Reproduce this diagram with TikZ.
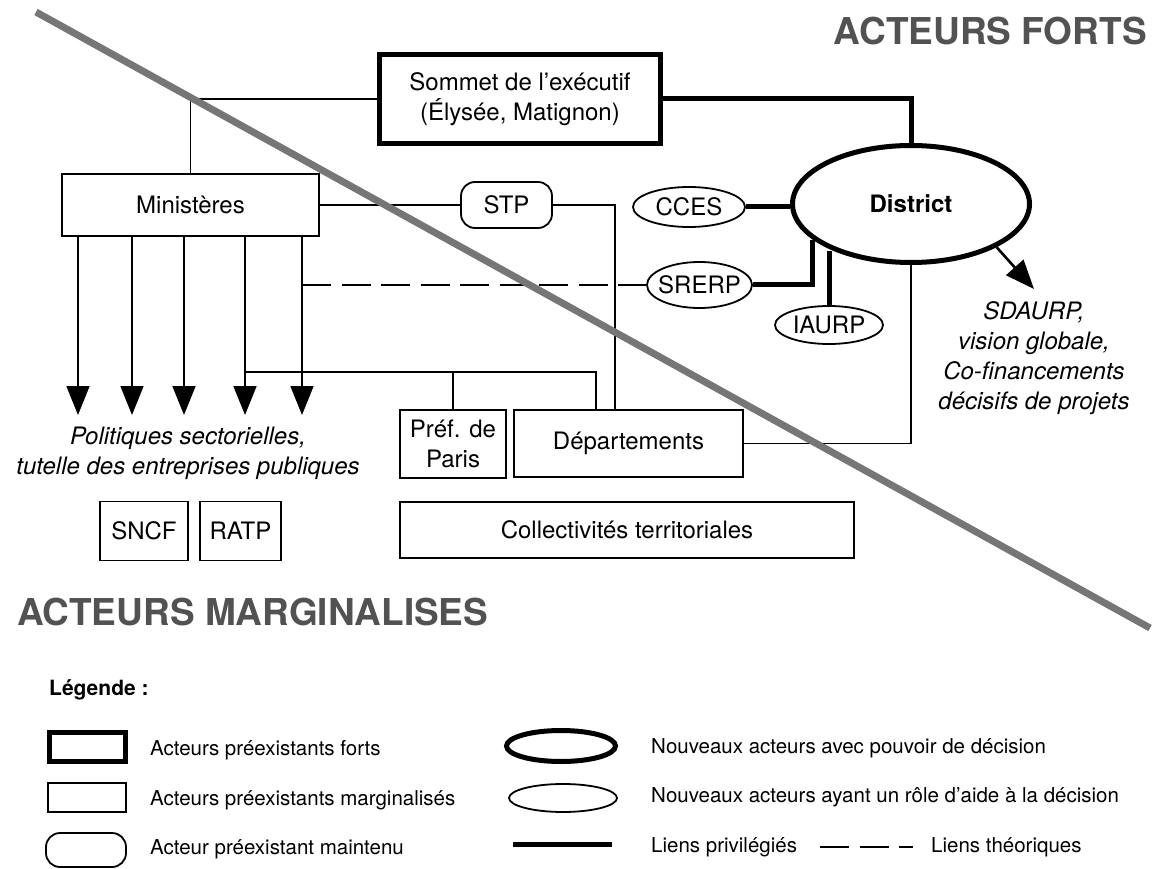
\documentclass[tikz,border=0pt]{standalone}
\usepackage{fontspec}
\setmainfont{TeX Gyre Heros}
\usetikzlibrary{arrows.meta,calc,shapes.geometric}
\definecolor{DistGray}{RGB}{118,118,118}
\definecolor{DistTitle}{RGB}{82,82,82}
\newcommand{\distfont}{\fontsize{24}{30}\selectfont}
\newcommand{\legfont}{\fontsize{20.5}{24}\selectfont}
\tikzset{
  dist/strongbox/.style={
    draw,
    line width=5pt,
    align=center,
    inner sep=0pt,
    font=\distfont
  },
  dist/weakbox/.style={
    draw,
    line width=1.8pt,
    align=center,
    inner sep=0pt,
    font=\distfont
  },
  dist/keptbox/.style={
    draw,
    line width=1.8pt,
    rounded corners=14pt,
    align=center,
    inner sep=0pt,
    font=\distfont
  },
  dist/power/.style={ellipse, draw, line width=5pt, inner sep=0pt, font=\distfont\bfseries},
  dist/aid/.style={ellipse, draw, line width=1.8pt, inner sep=0pt, font=\distfont},
  dist/link/.style={line width=1.8pt},
  dist/privlink/.style={line width=5pt},
  dist/theolink/.style={line width=1.8pt, dash pattern=on 29pt off 10.5pt},
  dist/arrow/.style={-{Triangle[length=29pt,width=23pt]}, line width=1.8pt},
  dist/note/.style={align=center, font=\distfont\itshape, inner xsep=2pt, inner ysep=12pt},
  dist/title/.style={font=\fontsize{37}{40}\selectfont\bfseries, text=DistTitle, inner sep=0pt},
  dist/legtitle/.style={anchor=west, font=\fontsize{21}{24}\selectfont\bfseries, inner sep=0pt},
  dist/legtext/.style={anchor=west, font=\legfont, inner sep=0pt},
  dist/divide/.style={line width=7pt, draw=DistGray}
}

\begin{document}
\begin{tikzpicture}[x=1pt,y=-1pt]
  \useasboundingbox (0,0) rectangle (1160,869);

  % acteurs
  \node[dist/strongbox,minimum width=281,minimum height=89] (sommet) at (520,99) {Sommet de l’exécutif\\(Élysée, Matignon)};
  \node[dist/weakbox,minimum width=257,minimum height=62] (ministeres) at (190.5,205) {Ministères};
  \node[dist/keptbox,minimum width=91,minimum height=46] (stp) at (506.5,205) {STP};
  \node[dist/aid,minimum width=112,minimum height=40] (cces) at (689,207) {CCES};
  \node[dist/power,minimum width=237,minimum height=117] (district) at (911,204) {District};
  \node[dist/aid,minimum width=105,minimum height=46] (srerp) at (699.5,285) {\makebox[0pt]{SRERP}};
  \node[dist/aid,minimum width=108,minimum height=38] (iaurp) at (829,325) {IAURP};
  \node[dist/weakbox,minimum width=106,minimum height=68] (prefparis) at (453,444) {Préf. de\\Paris};
  \node[dist/weakbox,minimum width=229,minimum height=67] (departements) at (628.5,443.5) {Départements};
  \node[dist/weakbox,minimum width=454,minimum height=56] (collectivites) at (627,530) {Collectivités territoriales};
  \node[dist/weakbox,minimum width=88,minimum height=59] (sncf) at (144,531) {SNCF};
  \node[dist/weakbox,minimum width=81,minimum height=59] (ratp) at (240.5,531) {RATP};

  \node[dist/note,anchor=north] (politiques) at (188,415) {Politiques sectorielles,\\tutelle des entreprises publiques};
  \node[dist/note,anchor=north] (sdaurp) at (1034,289) {SDAURP,\\vision globale,\\Co-financements\\décisifs de projets};

  \node[dist/title,anchor=base east] (fortstitle) at (1147,45) {ACTEURS FORTS};
  \node[dist/title,anchor=base west] (margtitle) at (17,625) {ACTEURS MARGINALISES};

  % liens
  \draw[dist/link] (sommet.west) -| (ministeres.north);
  \draw[dist/privlink] (sommet.east) -| (district.north);
  \draw[dist/link] (ministeres.east) -- (stp.west);
  \draw[dist/link] (stp.east) -| ($(departements.north west)+(102,0)$);
  \draw[dist/privlink] (cces.east) -- (cces.east -| district.west);
  \draw[dist/privlink] (srerp.east) -| (district.200);
  \draw[dist/privlink] (iaurp.north) -- (iaurp.north |- district.211);
  \draw[dist/link] (district.south) |- (departements.east);
  \draw[dist/arrow,line width=2.6pt] (district.south east) -- (sdaurp.north);
  \foreach \ax in {78,132,184,245,302}{
    \draw[dist/arrow] (\ax,0 |- ministeres.south) -- (\ax,0 |- politiques.north);
  }
  \draw[dist/theolink] (302,0 |- srerp.west) -- (srerp.west);
  \coordinate (tutelle) at (245,372);
  \draw[dist/link] (tutelle) -| ($(departements.north west)+(83,0)$);
  \draw[dist/link] (prefparis.north) -- (prefparis.north |- tutelle);

  % legende
  \node[dist/legtitle] (legende) at (49,690) {Légende :};
  \node[dist/strongbox,minimum width=76,minimum height=29] (legstrong) at (87.5,747) {};
  \node[dist/weakbox,minimum width=78,minimum height=29] (legweak) at (87,797.5) {};
  \node[dist/keptbox,minimum width=80,minimum height=34] (legkept) at (86,850) {};
  \node[dist/legtext] (legstrongtext) at (150,750) {Acteurs préexistants forts};
  \node[dist/legtext] (legweaktext) at (150,800) {Acteurs préexistants marginalisés};
  \node[dist/legtext] (legkepttext) at (150,849) {Acteur préexistant maintenu};
  \node[dist/power,minimum width=109,minimum height=31] (legpower) at (561,746) {};
  \node[dist/aid,minimum width=108,minimum height=28] (legaid) at (563,798) {};
  \coordinate (legpriva) at (513,844);
  \coordinate (legprivb) at (612,844);
  \draw[dist/privlink] (legpriva) -- (legprivb);
  \node[dist/legtext] (legpowertext) at (651,748) {Nouveaux acteurs avec pouvoir de décision};
  \node[dist/legtext] (legaidtext) at (651,797) {Nouveaux acteurs ayant un rôle d’aide à la décision};
  \node[dist/legtext] (legprivtext) at (651,847) {Liens privilégiés};
  \coordinate (legtheoa) at (820,847);
  \coordinate (legtheob) at (913,847);
  \draw[dist/theolink] (legtheoa) -- (legtheob);
  \node[dist/legtext] (legtheotext) at (931,847) {Liens théoriques};

  % partage forts / marginalises
  \coordinate (divtop) at (36,12);
  \coordinate (divbot) at (1150,628);
  \draw[dist/divide] (divtop) -- (divbot);
\end{tikzpicture}
\end{document}
